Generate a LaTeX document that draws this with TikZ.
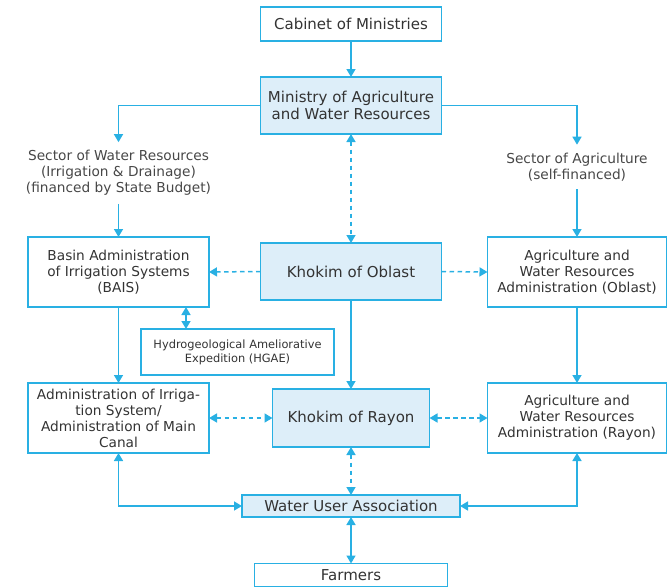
\documentclass[tikz,border=0pt]{standalone}
\usepackage{fontspec}
\setmainfont{DejaVu Sans}
\usetikzlibrary{arrows.meta}
\definecolor{edge}{HTML}{29B0E3}
\definecolor{boxfill}{HTML}{DDEEF9}
\definecolor{ink}{HTML}{333333}
\tikzset{
  box/.style={draw=edge, line width=1.4pt, text=ink, align=center, inner sep=0pt, outer sep=0pt},
  mainbox/.style={box, font=\fontsize{15}{17}\selectfont},
  sidebox/.style={box, font=\fontsize{13.7}{16}\selectfont},
  hl/.style={fill=boxfill},
  sector/.style={text=ink!90, align=center, inner xsep=0pt, inner ysep=8pt, font=\fontsize{13.7}{16}\selectfont},
  conn/.style={draw=edge, line width=1.5pt, -{Triangle[width=9pt,length=8pt]}},
  bi/.style={conn, {Triangle[width=9pt,length=8pt]}-{Triangle[width=9pt,length=8pt]}},
  dsh/.style={dash pattern=on 4.5pt off 3.5pt}
}
\begin{document}
\begin{tikzpicture}[x=1pt,y=-1pt]
\useasboundingbox (0,0) rectangle (667,587);
\node[mainbox, minimum width=181pt, minimum height=34pt] (cab) at (351,24) {Cabinet of Ministries};
\node[mainbox, hl, minimum width=181pt, minimum height=57pt] (min) at (351,105.5) {Ministry of Agriculture\\and Water Resources};
\node[sector] (secw) at (118.5,173) {Sector of Water Resources\\(Irrigation \& Drainage)\\(financed by State Budget)};
\node[sector] (seca) at (577,167) {Sector of Agriculture\\(self-financed)};
\node[sidebox, minimum width=181pt, minimum height=70pt] (bais) at (118.5,272) {Basin Administration\\of Irrigation Systems\\(BAIS)};
\node[mainbox, hl, minimum width=181pt, minimum height=57pt] (kob) at (351,271.5) {Khokim of Oblast};
\node[sidebox, minimum width=179pt, minimum height=70pt] (awob) at (577,272) {Agriculture and\\Water Resources\\Administration (Oblast)};
\node[box, font=\fontsize{11.4}{14}\selectfont, minimum width=193pt, minimum height=46pt] (hgae) at (237.5,352) {Hydrogeological Ameliorative\\Expedition (HGAE)};
\node[sidebox, minimum width=181pt, minimum height=70pt] (adm) at (118.5,418) {Administration of Irriga-\\tion System/\\Administration of Main\\Canal};
\node[mainbox, hl, minimum width=157pt, minimum height=58pt] (kra) at (351,418) {Khokim of Rayon};
\node[sidebox, minimum width=179pt, minimum height=70pt] (awra) at (577,418) {Agriculture and\\Water Resources\\Administration (Rayon)};
\node[mainbox, hl, minimum width=218pt, minimum height=22pt] (wua) at (351,506) {Water User Association};
\node[mainbox, minimum width=193pt, minimum height=23pt] (farm) at (351,575) {Farmers};

\draw[conn] (cab) -- (min);
\draw[conn] (min.west) -| (secw.north);
\draw[conn] (min.east) -| (seca.north);
\draw[conn] (secw.south) -- (bais.north);
\draw[conn] (seca.south) -- (awob.north);
\draw[bi, dsh] (min.south) -- (kob.north);
\draw[conn, dsh] (kob.west) -- (bais.east);
\draw[conn, dsh] (kob.east) -- (awob.west);
\draw[bi] ([xshift=67.5pt]bais.south) -- ([xshift=67.5pt]bais.south |- hgae.north);
\draw[conn] (bais.south) -- (adm.north);
\draw[conn] (kob.south) -- (kra.north);
\draw[conn] (awob.south) -- (awra.north);
\draw[bi, dsh] (adm.east) -- (kra.west);
\draw[bi, dsh] (kra.east) -- (awra.west);
\draw[bi, dsh] (kra.south) -- (wua.north);
\draw[bi] (adm.south) |- (wua.west);
\draw[bi] (awra.south) |- (wua.east);
\draw[bi] (wua.south) -- (farm.north);
\end{tikzpicture}
\end{document}
